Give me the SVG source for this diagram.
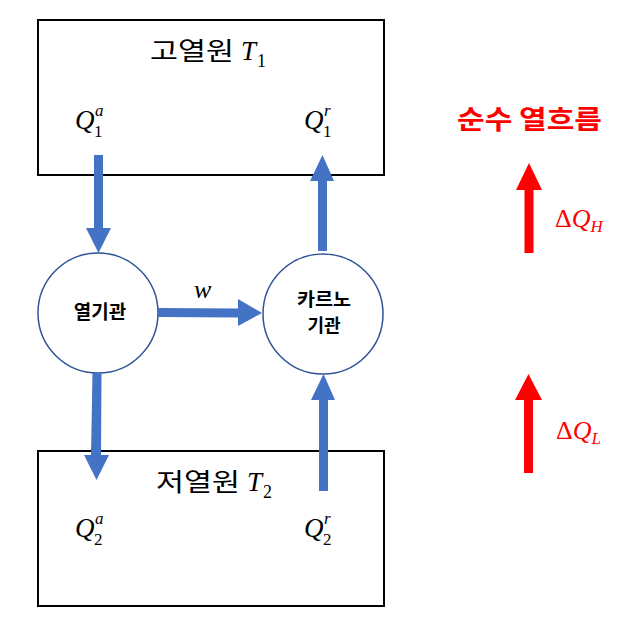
<svg xmlns="http://www.w3.org/2000/svg" width="639" height="629" viewBox="0 0 639 629">
<style>
.box{fill:#fff;stroke:#000;stroke-width:2}
.circ{fill:#fff;stroke:#2F5597;stroke-width:1.5}
.blue{fill:#4472C4}
.red{fill:#FF0000}
.kr{font-family:"Noto Sans CJK KR","Noto Sans",sans-serif;fill:#000}
.m{font-family:"Liberation Serif","DejaVu Serif",serif;font-style:italic;fill:#000}
.d{font-family:"Liberation Serif","DejaVu Serif",serif;font-style:normal;fill:#000}
</style>
<rect width="639" height="629" fill="#fff"/>
<g id="hot">
<rect class="box" x="38" y="20" width="346" height="155"/>
<text class="kr" x="150" y="60" font-size="25" textLength="84" lengthAdjust="spacingAndGlyphs">고열원</text>
<text class="m" x="241" y="60" font-size="27">T</text>
<text class="d" x="257" y="67" font-size="18">1</text>
<text class="m" x="75" y="129" font-size="27">Q</text>
<text class="d" x="94" y="137" font-size="17">1</text>
<text class="m" x="95" y="116" font-size="17">a</text>
<text class="m" x="304" y="129" font-size="27">Q</text>
<text class="d" x="323" y="137" font-size="17">1</text>
<text class="m" x="324" y="116" font-size="17">r</text>
</g>
<g id="cold">
<rect class="box" x="38" y="451" width="346" height="155"/>
<text class="kr" x="156" y="491" font-size="25" textLength="84" lengthAdjust="spacingAndGlyphs">저열원</text>
<text class="m" x="247" y="491" font-size="27">T</text>
<text class="d" x="263" y="498" font-size="18">2</text>
<text class="m" x="75" y="537" font-size="27">Q</text>
<text class="d" x="94" y="545" font-size="17">2</text>
<text class="m" x="95" y="524" font-size="17">a</text>
<text class="m" x="304" y="537" font-size="27">Q</text>
<text class="d" x="323" y="545" font-size="17">2</text>
<text class="m" x="324" y="524" font-size="17">r</text>
</g>
<g id="engine">
<circle class="circ" cx="98" cy="313" r="60"/>
<text class="kr" x="100" y="319" font-size="19" font-weight="bold" text-anchor="middle">열기관</text>
</g>
<g id="carnot">
<circle class="circ" cx="323" cy="314" r="60"/>
<text class="kr" x="324" y="306" font-size="18" font-weight="bold" text-anchor="middle" textLength="54" lengthAdjust="spacingAndGlyphs">카르노</text>
<text class="kr" x="324" y="332" font-size="18" font-weight="bold" text-anchor="middle">기관</text>
</g>
<g id="connectors">
<polygon class="blue" points="94,155 103,155 103,228 111,228 98.5,253 86,228 94,228"/>
<polygon class="blue" points="318,251 327,251 327,181 334,181 322.5,155 310,181 318,181"/>
<polygon class="blue" points="158,308 238,308.5 238,299 262,313 238,326 238,317.5 158,317"/>
<polygon class="blue" points="92.5,373 101.5,373 101,455 109,455 96.5,480 84,455 91,455"/>
<polygon class="blue" points="319,491 328,491 328,400 335,400 323.5,374 311,400 319,400"/>
<text class="m" x="194" y="298" font-size="26">w</text>
</g>
<g id="netflow">
<text class="kr" x="457" y="129" font-size="26" font-weight="bold" textLength="145" lengthAdjust="spacingAndGlyphs" style="fill:#FF0000">순수 열흐름</text>
<polygon class="red" points="524.5,253 533.5,253 533.5,190 542,190 529,163 516,190 524.5,190"/>
<polygon class="red" points="524,473 533,473 533,400 542,400 528.5,374 515,400 524,400"/>
<text x="555" y="227" font-size="26" style="fill:#FF0000" font-family="Liberation Serif, DejaVu Serif, serif">Δ<tspan font-style="italic">Q</tspan><tspan font-style="italic" font-size="17" dy="5">H</tspan></text>
<text x="556" y="439" font-size="26" style="fill:#FF0000" font-family="Liberation Serif, DejaVu Serif, serif">Δ<tspan font-style="italic">Q</tspan><tspan font-style="italic" font-size="17" dy="5">L</tspan></text>
</g>
</svg>
